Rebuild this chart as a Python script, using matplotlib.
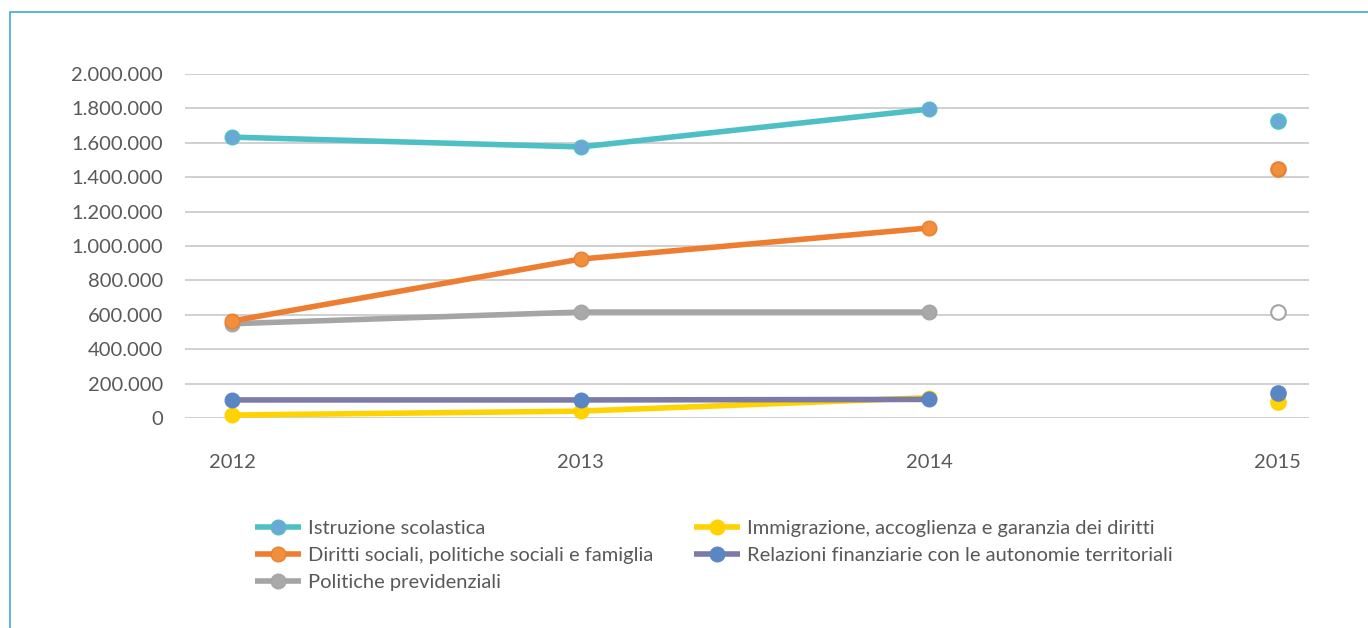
import numpy as np
import matplotlib
matplotlib.use('Agg')
import matplotlib.pyplot as plt
from matplotlib.patches import Rectangle
from matplotlib.ticker import FuncFormatter

# data
years = ['2012', '2013', '2014', '2015']
istruzione = [1633000, 1576000, 1796000, 1727000]
diritti = [564000, 924000, 1105000, 1448000]
previdenza = [548000, 616000, 616000, 616000]
immigrazione = [17000, 40000, 118000, 93000]
relazioni = [105000, 105000, 108000, 145000]

labels = ['Istruzione scolastica',
          'Diritti sociali, politiche sociali e famiglia',
          'Politiche previdenziali',
          'Immigrazione, accoglienza e garanzia dei diritti',
          'Relazioni finanziarie con le autonomie territoriali']
series = [istruzione, diritti, previdenza, immigrazione, relazioni]
line_colors = ['#4fbfc6', '#ed7d31', '#a5a5a5', '#ffd200', '#7b7aa8']
marker_faces = ['#6aa9d5', '#f08f3c', '#a9a9a9', '#ffd200', '#5a87c3']
marker_edges = ['#4fbfc6', '#ed7d31', '#a5a5a5', '#ffd200', '#5a87c3']

plt.rcParams['font.family'] = ['Lato', 'DejaVu Sans']
text_color = '#595959'

fig = plt.figure(figsize=(13.68, 6.28), dpi=100)
fig.patches.append(Rectangle((10 / 1368, -0.1), 1.2, (628 - 12) / 628 + 0.1,
                             transform=fig.transFigure, fill=False,
                             edgecolor='#3fa9da', linewidth=1.2))

ax = fig.add_axes([185 / 1368, (628 - 418) / 628, 1124 / 1368, 344 / 628])
x = np.arange(len(years))

# draw in this order so blue/yellow sit on top like the original
order = [2, 1, 0, 3, 4]
for i in order:
    vals = series[i]
    ax.plot(x[:3], vals[:3], color=line_colors[i], linewidth=4,
            marker='o', markersize=10.5, markerfacecolor=marker_faces[i],
            markeredgecolor=marker_edges[i], markeredgewidth=1,
            solid_capstyle='butt', clip_on=False, zorder=3, label=labels[i])
    face = 'white' if i == 2 else marker_faces[i]
    ax.plot(x[3], vals[3], linestyle='none', marker='o', markersize=10.5,
            markerfacecolor=face, markeredgecolor=marker_edges[i],
            markeredgewidth=1.5, clip_on=False, zorder=3)

handle_map = {l.get_label(): l for l in ax.get_lines() if not l.get_label().startswith('_')}
handles = [handle_map[l] for l in labels]

ax.set_ylim(0, 2000000)
ax.set_yticks(np.arange(0, 2000001, 200000))
ax.yaxis.set_major_formatter(FuncFormatter(lambda v, p: f'{int(v):,}'.replace(',', '.')))
ax.set_xlim(-0.135, 3.09)
ax.set_xticks(x)
ax.set_xticklabels(years)
ax.grid(axis='y', color='#d0d0d0', linewidth=1.4)
ax.set_axisbelow(True)
for s in ax.spines.values():
    s.set_visible(False)
ax.tick_params(axis='both', length=0, labelsize=14.5, labelcolor=text_color)
ax.tick_params(axis='y', pad=16)
ax.tick_params(axis='x', pad=26)

fig.legend(handles, labels, ncol=2, loc='upper left',
           bbox_to_anchor=(255 / 1368, (628 - 520) / 628), frameon=False,
           fontsize=14.5, labelcolor=text_color, handlelength=2.3,
           handletextpad=0.35, columnspacing=2.0, labelspacing=0.48,
           borderpad=0, borderaxespad=0)

fig.savefig('out.png', dpi=100)
